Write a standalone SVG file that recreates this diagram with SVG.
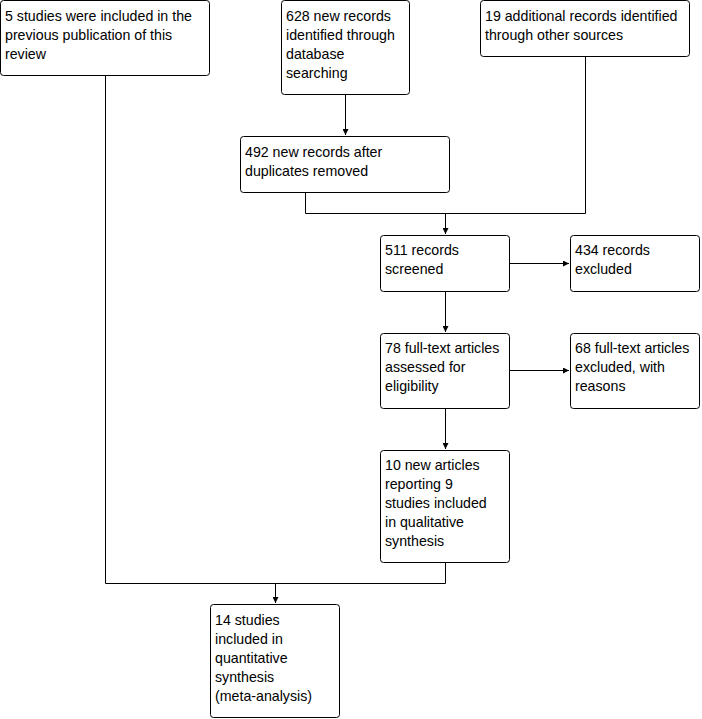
<svg xmlns="http://www.w3.org/2000/svg" width="702" height="719" viewBox="0 0 702 719">
<style>
.box{fill:#fff;stroke:#000;stroke-width:1}
.t{font-family:"Liberation Sans",Arial,sans-serif;font-size:14.2px;fill:#000}
.c{fill:none;stroke:#000;stroke-width:1}
</style>
<defs>
<marker id="ah" markerWidth="6" markerHeight="6" refX="6" refY="3" orient="auto" markerUnits="userSpaceOnUse">
<path d="M0,0 L6,3 L0,6 z" fill="#000"/>
</marker>
</defs>
<rect width="702" height="719" fill="#fff"/>
<g id="connectors">
<path class="c" d="M105.5,76 V583.5 H445.5 V562"/>
<path class="c" d="M275.5,583.5 V603" marker-end="url(#ah)"/>
<path class="c" d="M345.5,95 V135" marker-end="url(#ah)"/>
<path class="c" d="M305.5,193 V213.5 H585.5 V57"/>
<path class="c" d="M445.5,213.5 V234" marker-end="url(#ah)"/>
<path class="c" d="M510,263.5 H569" marker-end="url(#ah)"/>
<path class="c" d="M445.5,291 V332" marker-end="url(#ah)"/>
<path class="c" d="M510,370.5 H569" marker-end="url(#ah)"/>
<path class="c" d="M445.5,408 V449" marker-end="url(#ah)"/>
</g>
<g id="n1"><rect class="box" x="0.5" y="0.5" width="209" height="75" rx="3"/>
<text class="t" x="5" y="20.5">5 studies were included in the</text>
<text class="t" x="5" y="39.5">previous publication of this</text>
<text class="t" x="5" y="58.5">review</text></g>
<g id="n2"><rect class="box" x="281.5" y="0.5" width="128" height="94" rx="3"/>
<text class="t" x="286" y="20.5">628 new records</text>
<text class="t" x="286" y="39.5">identified through</text>
<text class="t" x="286" y="58.5">database</text>
<text class="t" x="286" y="77.5">searching</text></g>
<g id="n3"><rect class="box" x="480.5" y="0.5" width="209" height="56" rx="3"/>
<text class="t" x="485" y="20.5">19 additional records identified</text>
<text class="t" x="485" y="39.5">through other sources</text></g>
<g id="n4"><rect class="box" x="240.5" y="136.5" width="209" height="56" rx="3"/>
<text class="t" x="245" y="156.5">492 new records after</text>
<text class="t" x="245" y="175.5">duplicates removed</text></g>
<g id="n5"><rect class="box" x="380.5" y="235.5" width="129" height="56" rx="3"/>
<text class="t" x="385" y="254.5">511 records</text>
<text class="t" x="385" y="273.5">screened</text></g>
<g id="n6"><rect class="box" x="570.5" y="235.5" width="129" height="56" rx="3"/>
<text class="t" x="575" y="254.5">434 records</text>
<text class="t" x="575" y="273.5">excluded</text></g>
<g id="n7"><rect class="box" x="380.5" y="333.5" width="129" height="75" rx="3"/>
<text class="t" x="385" y="352.5">78 full-text articles</text>
<text class="t" x="385" y="371.5">assessed for</text>
<text class="t" x="385" y="390.5">eligibility</text></g>
<g id="n8"><rect class="box" x="570.5" y="333.5" width="129" height="75" rx="3"/>
<text class="t" x="575" y="352.5">68 full-text articles</text>
<text class="t" x="575" y="371.5">excluded, with</text>
<text class="t" x="575" y="390.5">reasons</text></g>
<g id="n9"><rect class="box" x="380.5" y="450.5" width="129" height="112" rx="3"/>
<text class="t" x="385" y="469.5">10 new articles</text>
<text class="t" x="385" y="488.5">reporting 9</text>
<text class="t" x="385" y="507.5">studies included</text>
<text class="t" x="385" y="526.5">in qualitative</text>
<text class="t" x="385" y="545.5">synthesis</text></g>
<g id="n10"><rect class="box" x="210.5" y="604.5" width="129" height="113" rx="3"/>
<text class="t" x="215" y="624.5">14 studies</text>
<text class="t" x="215" y="643.5">included in</text>
<text class="t" x="215" y="662.5">quantitative</text>
<text class="t" x="215" y="681.5">synthesis</text>
<text class="t" x="215" y="700.5">(meta-analysis)</text></g>
</svg>
